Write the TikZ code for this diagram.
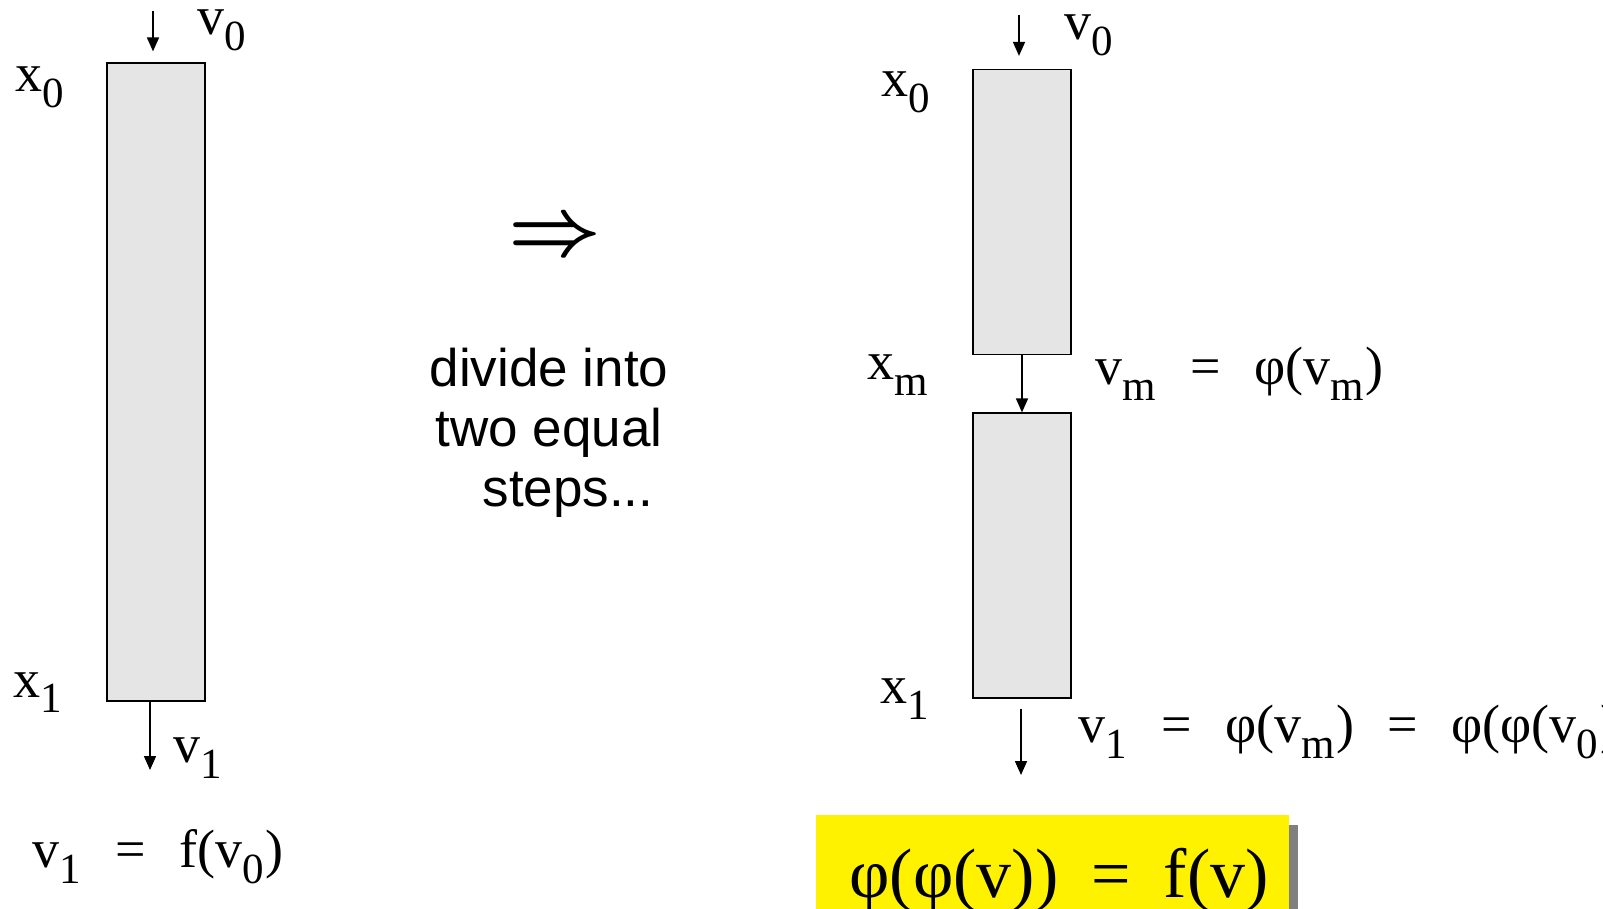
\documentclass[tikz,border=0pt]{standalone}
\usepackage{fontspec}
\setmainfont{Liberation Serif}
\newfontfamily\notefont{Liberation Sans}
\usetikzlibrary{arrows.meta, positioning}

% lowered index, as the slide sets it
\newcommand\lo[1]{\raisebox{-8pt}{\fontsize{21.5pt}{22pt}\selectfont #1}\kern1pt}
\newcommand\eqsp{\hspace{16.5pt}=\hspace{16.5pt}}

\begin{document}
\begin{tikzpicture}[
    x=0.5pt, y=-0.5pt,
    cell/.style={draw, fill=black!10, line width=0.6pt, minimum width=49pt, inner sep=0pt},
    flow/.style={-{Triangle[length=7pt, width=6pt]}, line width=0.8pt},
    lbl/.style={anchor=base west, inner sep=0pt, font=\fontsize{27pt}{30pt}\selectfont},
    note/.style={align=center, inner sep=0pt, font=\notefont\fontsize{26.5pt}{30pt}\selectfont},
    big/.style={anchor=base west, inner sep=0pt, font=\fontsize{35pt}{40pt}\selectfont},
    sym/.style={inner sep=0pt, font=\boldmath}
]
\useasboundingbox (0,0) rectangle (1603,909);

% One full step
\node[cell, minimum height=319pt] (full) at (156,382) {};
\node[lbl] (x0) at (15,92) {x\lo{0}};
\node[lbl] (x1) at (13,697) {x\lo{1}};
\node[lbl] (v0) at (197,35) {v\lo{0}};
\node[lbl] (v1) at (173,762) {v\lo{1}};
\node[lbl] (f) at (32,867) {v\lo{1}\eqsp f(v\lo{0})};

\coordinate (in0) at (153,11);
\coordinate (out0) at (150,770);
\draw[flow, shorten >=5.5pt] (in0) -- (in0 |- full.north);
\draw[flow] (full.south -| out0) -- (out0);

% Middle
\node[sym] (imp) at (555,239) {\scalebox{1.95}{\huge$\Rightarrow$}};
\node[note] (divide) at (549,433) {divide into\\two equal\\\hspace*{19pt}steps...};

% Two half steps
\node[cell, minimum height=142.5pt] (halfa) at (1022,212) {};
\node[cell, minimum height=142.5pt] (halfb) at (1022,555.5) {};
\node[lbl] (hx0) at (881,97) {x\lo{0}};
\node[lbl] (hxm) at (867,380) {x\lo{m}};
\node[lbl] (hx1) at (880,703) {x\lo{1}};
\node[lbl] (hv0) at (1064,40) {v\lo{0}};
\node[lbl] (hvm) at (1095,385) {v\lo{m}\eqsp φ(v\lo{m})};
\node[lbl] (hv1) at (1078,742) {v\lo{1}\eqsp φ(v\lo{m})\eqsp φ(φ(v\lo{0}))};

\coordinate (in1) at (1019,15);
\coordinate (out1) at (1021,775);
\draw[flow, shorten >=6.5pt] (in1) -- (in1 |- halfa.north);
\draw[flow] (halfa.south) -- (halfb.north);
\draw[flow, shorten <=5pt] (halfb.south -| out1) -- (out1);

% Result
\fill[black!50] (1289,825) rectangle (1298,960);
\fill[yellow] (816,815) rectangle (1289,960);
\node[big] (result) at (849,897) {φ(φ(v))\eqsp f(v)};

\end{tikzpicture}
\end{document}
